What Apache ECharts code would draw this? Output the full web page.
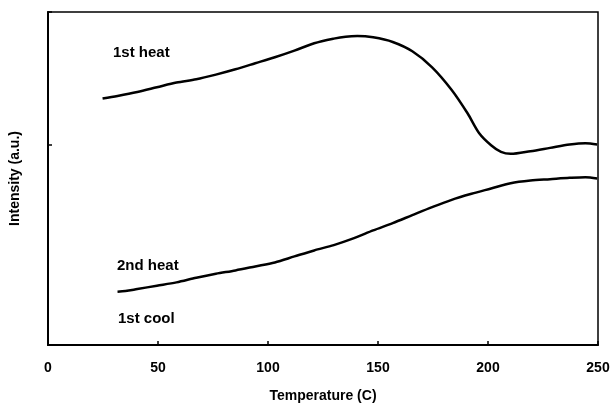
<!DOCTYPE html>
<html>
<head>
<meta charset="utf-8">
<script src="https://cdn.jsdelivr.net/npm/echarts@6/dist/echarts.min.js"></script>
<style>html,body{margin:0;padding:0;background:#fff;}#c{width:614px;height:408px;}</style>
</head>
<body>
<div id="c"></div>
<script>
const xTicks = [0, 50, 100, 150, 200, 250];
const firstHeatX = [24.8, 31.6, 40.6, 49.5, 58.4, 67.4, 76.3, 85.2, 94.2, 103.1, 112.0, 121.0, 129.9, 135.3, 140.6, 147.8, 156.7, 165.6, 174.6, 183.5, 190.7, 196.0, 201.4, 205.9, 210.3, 219.3, 228.2, 237.1, 244.3, 249.6];
const firstHeatY = [3.70, 3.74, 3.80, 3.87, 3.94, 3.99, 4.06, 4.14, 4.23, 4.32, 4.42, 4.53, 4.60, 4.63, 4.64, 4.62, 4.55, 4.41, 4.17, 3.83, 3.48, 3.18, 3.00, 2.90, 2.87, 2.91, 2.96, 3.01, 3.03, 3.01];
const secondHeatX = [31.6, 35.2, 40.6, 49.5, 58.4, 67.4, 76.3, 85.2, 94.2, 103.1, 112.0, 121.0, 129.9, 138.8, 147.8, 156.7, 165.6, 174.6, 183.5, 192.5, 201.4, 210.3, 219.3, 228.2, 237.1, 244.3, 249.6];
const secondHeatY = [0.80, 0.81, 0.84, 0.89, 0.94, 1.01, 1.07, 1.12, 1.18, 1.24, 1.33, 1.42, 1.50, 1.60, 1.72, 1.83, 1.95, 2.07, 2.18, 2.27, 2.35, 2.43, 2.47, 2.49, 2.51, 2.52, 2.50];
const curveLabels = ['1st heat', '2nd heat', '1st cool'];

const pair = (xs, ys) => xs.map((x, i) => [x, ys[i]]);
const font = 'Liberation Sans, Arial, sans-serif';
const chart = echarts.init(document.getElementById('c'), null, {renderer: 'canvas'});
chart.setOption({
  animation: false,
  backgroundColor: '#fff',
  grid: {left: 47, right: 16, top: 12, bottom: 60, show: true, borderColor: '#000', borderWidth: 1.5, backgroundColor: 'transparent'},
  xAxis: {
    type: 'value', min: 0, max: 250, interval: 50,
    name: 'Temperature (C)', nameLocation: 'middle', nameGap: 44,
    nameTextStyle: {color: '#000', fontFamily: font, fontSize: 14, fontWeight: 'bold'},
    axisLine: {lineStyle: {color: '#000', width: 2}},
    axisTick: {inside: true, length: 4, lineStyle: {color: '#000', width: 1.5}},
    axisLabel: {color: '#000', fontFamily: font, fontSize: 14, fontWeight: 'bold', margin: 16,
      formatter: v => xTicks.includes(v) ? String(v) : ''},
    splitLine: {show: false}
  },
  yAxis: {
    type: 'value', min: 0, max: 5, interval: 3,
    name: 'Intensity (a.u.)', nameLocation: 'middle', nameGap: 26,
    nameTextStyle: {color: '#000', fontFamily: font, fontSize: 14, fontWeight: 'bold'},
    axisLine: {show: true, lineStyle: {color: '#000', width: 2}},
    axisTick: {show: true, inside: true, length: 4, lineStyle: {color: '#000', width: 1.5}},
    axisLabel: {show: false},
    splitLine: {show: false}
  },
  series: [
    {type: 'line', data: pair(firstHeatX, firstHeatY), smooth: 0.3, showSymbol: false,
      lineStyle: {color: '#000', width: 2.5}},
    {type: 'line', data: pair(secondHeatX, secondHeatY), smooth: 0.3, showSymbol: false,
      lineStyle: {color: '#000', width: 2.5}}
  ],
  graphic: [
    {type: 'text', left: 113, top: 45, style: {text: curveLabels[0], fill: '#000', font: 'bold 15px ' + font}},
    {type: 'text', left: 117, top: 258, style: {text: curveLabels[1], fill: '#000', font: 'bold 15px ' + font}},
    {type: 'text', left: 118, top: 311, style: {text: curveLabels[2], fill: '#000', font: 'bold 15px ' + font}}
  ]
});
</script>
</body>
</html>
